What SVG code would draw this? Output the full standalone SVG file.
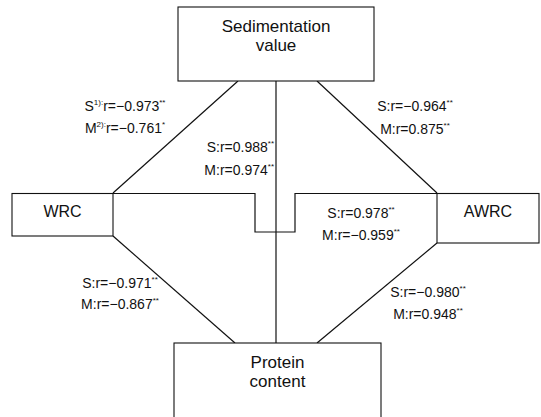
<svg xmlns="http://www.w3.org/2000/svg" width="541" height="417" viewBox="0 0 541 417">
<style>
.box{fill:#fff;stroke:#111;stroke-width:1.1}
.ln{fill:none;stroke:#111;stroke-width:1.2}
.t{font-family:"Liberation Sans",Arial,sans-serif;fill:#111;text-anchor:middle}
.big{font-size:17px}
.mid{font-size:16px}
.lab{font-size:14px}
.sup{font-size:8px}
</style>
<rect width="541" height="417" fill="#fff"/>
<g id="connectors">
<line class="ln" x1="238" y1="81" x2="113" y2="193"/>
<line class="ln" x1="317" y1="81" x2="437" y2="193"/>
<line class="ln" x1="276" y1="81" x2="276" y2="343"/>
<polyline class="ln" points="113,193.5 255,193.5 255,232 295,232 295,193.5 437,193.5"/>
<line class="ln" x1="113" y1="236" x2="235" y2="343"/>
<line class="ln" x1="437" y1="243" x2="317" y2="343"/>
</g>
<g id="sedimentation">
<rect class="box" x="178" y="7" width="196" height="74"/>
<text class="t big" x="276" y="32">Sedimentation</text>
<text class="t big" x="276" y="51">value</text>
</g>
<g id="wrc">
<rect class="box" x="12" y="193.5" width="101" height="42.5"/>
<text class="t mid" x="62.5" y="217">WRC</text>
</g>
<g id="awrc">
<rect class="box" x="437" y="193.5" width="102" height="49.5"/>
<text class="t mid" x="488" y="217">AWRC</text>
</g>
<g id="protein">
<rect class="box" x="174" y="343" width="207" height="80"/>
<text class="t big" x="277.5" y="368">Protein</text>
<text class="t big" x="277.5" y="387">content</text>
</g>
<g id="labels">
<text class="t lab" x="125" y="111">S<tspan class="sup" dy="-6">1):</tspan><tspan dy="6">r=−0.973</tspan><tspan class="sup" dy="-6">**</tspan></text>
<text class="t lab" x="125" y="133">M<tspan class="sup" dy="-6">2):</tspan><tspan dy="6">r=−0.761</tspan><tspan class="sup" dy="-6">*</tspan></text>
<text class="t lab" x="274" y="152" style="text-anchor:end">S:r=0.988<tspan class="sup" dy="-6">**</tspan></text>
<text class="t lab" x="274" y="175" style="text-anchor:end">M:r=0.974<tspan class="sup" dy="-6">**</tspan></text>
<text class="t lab" x="415" y="111">S:r=−0.964<tspan class="sup" dy="-6">**</tspan></text>
<text class="t lab" x="415" y="134">M:r=0.875<tspan class="sup" dy="-6">**</tspan></text>
<text class="t lab" x="361" y="218">S:r=0.978<tspan class="sup" dy="-6">**</tspan></text>
<text class="t lab" x="361" y="240">M:r=−0.959<tspan class="sup" dy="-6">**</tspan></text>
<text class="t lab" x="120" y="288">S:r=−0.971<tspan class="sup" dy="-6">**</tspan></text>
<text class="t lab" x="120" y="309">M:r=−0.867<tspan class="sup" dy="-6">**</tspan></text>
<text class="t lab" x="428" y="297">S:r=−0.980<tspan class="sup" dy="-6">**</tspan></text>
<text class="t lab" x="428" y="319">M:r=0.948<tspan class="sup" dy="-6">**</tspan></text>
</g>
</svg>
